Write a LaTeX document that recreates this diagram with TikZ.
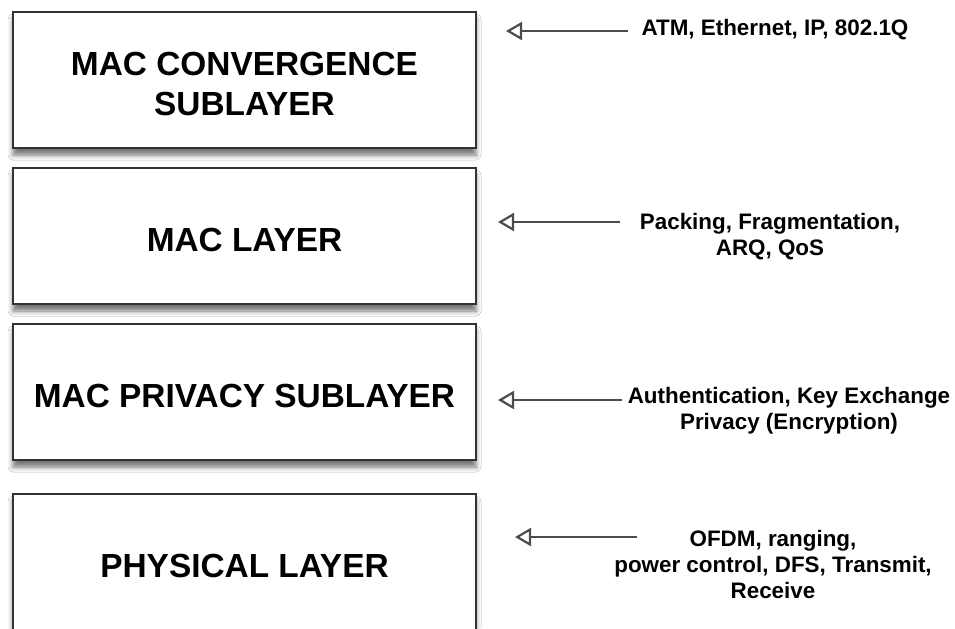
\documentclass[tikz,border=0pt]{standalone}
\usepackage{fontspec}
\setmainfont{Liberation Sans}
\usetikzlibrary{arrows.meta,shadows.blur}

\begin{document}
\begin{tikzpicture}[
    x=0.5pt, y=-0.5pt,
    layer/.style={rectangle, draw=black!80, line width=1.2pt, fill=white, minimum width=231.5pt, minimum height=68pt, align=center, font=\fontsize{16.7}{20}\selectfont\bfseries, text height=16pt, blur shadow={shadow xshift=0pt, shadow yshift=-3.5pt, shadow blur radius=2.5pt, shadow opacity=55}},
    note/.style={align=center, inner sep=0pt, font=\fontsize{11.2}{13}\selectfont\bfseries},
    arrow/.style={-{Triangle[open, length=8pt, width=9pt]}, line width=1.1pt, draw=black!70}
]
\useasboundingbox[fill=white] (0,0) rectangle (955,628);

% Layers
\node[layer, text height=36pt] (conv) at (244.5,80) {MAC CONVERGENCE\\SUBLAYER};
\node[layer] (mac) at (244.5,236) {MAC LAYER};
\node[layer] (priv) at (244.5,392) {MAC PRIVACY SUBLAYER};
\node[layer] (phy) at (244.5,562) {PHYSICAL LAYER};

% Functions
\node[note] (convfn) at (775,30) {ATM, Ethernet, IP, 802.1Q};
\node[note] (macfn) at (770,237) {Packing, Fragmentation,\\ARQ, QoS};
\node[note] (privfn) at (789,411) {Authentication, Key Exchange\\Privacy (Encryption)};
\node[note] (phyfn) at (773,564) {OFDM, ranging,\\power control, DFS, Transmit,\\Receive};

% Arrow ends
\coordinate (convfrom) at (628,31);
\coordinate (convto) at (506,31);
\coordinate (macfrom) at (620,222);
\coordinate (macto) at (498,222);
\coordinate (privfrom) at (622,400);
\coordinate (privto) at (498,400);
\coordinate (phyfrom) at (637,537);
\coordinate (phyto) at (515,537);

% Connections
\draw[arrow] (convfrom) -- (convto);
\draw[arrow] (macfrom) -- (macto);
\draw[arrow] (privfrom) -- (privto);
\draw[arrow] (phyfrom) -- (phyto);

\end{tikzpicture}
\end{document}
